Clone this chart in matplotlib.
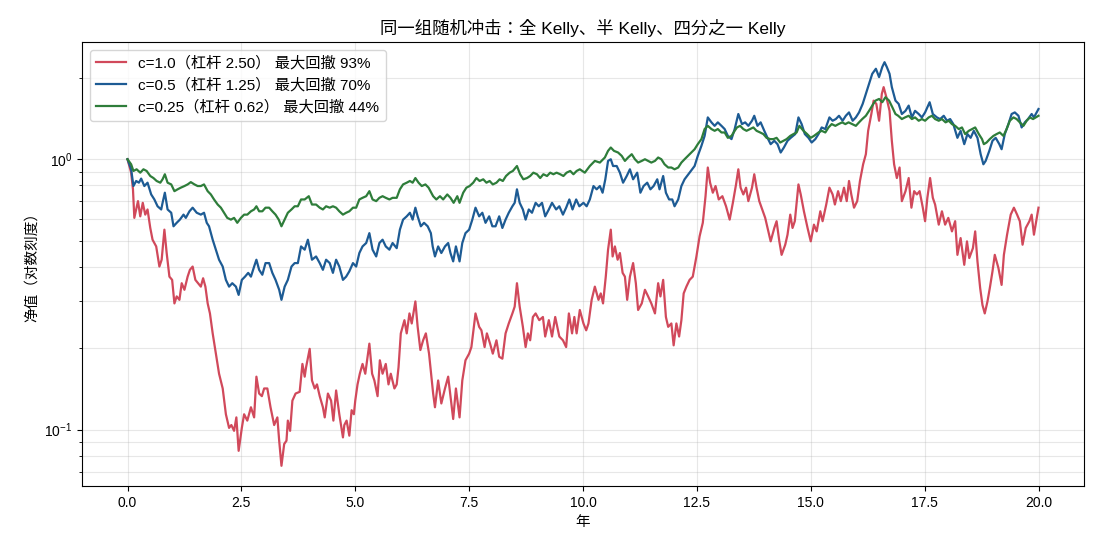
import matplotlib
matplotlib.use("Agg")
import matplotlib.pyplot as plt

plt.rcParams['font.family'] = ['Liberation Sans', 'Noto Sans CJK JP', 'DejaVu Sans']
plt.rcParams['axes.unicode_minus'] = False

# values (years, net value)
red_t = [0, 0.08, 0.12, 0.15, 0.23, 0.28, 0.335, 0.39, 0.44, 0.50,
         0.55, 0.63, 0.70, 0.75, 0.81, 0.86, 0.92, 0.98, 1.03, 1.08,
         1.14, 1.19, 1.25, 1.32, 1.37, 1.43, 1.49, 1.55, 1.61, 1.66,
         1.71, 1.76, 1.81, 1.87, 1.94, 2.01, 2.09, 2.16, 2.23, 2.28,
         2.34, 2.39, 2.44, 2.51, 2.56, 2.63, 2.71, 2.78, 2.83, 2.89,
         2.95, 3.00, 3.07, 3.14, 3.22, 3.29,
         3.33, 3.38, 3.44, 3.49, 3.52, 3.57, 3.62, 3.69, 3.78, 3.84,
         3.89, 3.92, 4.00, 4.05, 4.11, 4.16, 4.22, 4.29, 4.33, 4.40,
         4.47, 4.52, 4.58, 4.65, 4.73, 4.76, 4.81, 4.87, 4.92, 4.97,
         5.00, 5.05, 5.10, 5.16, 5.22, 5.31, 5.37, 5.42, 5.49, 5.54,
         5.60, 5.67, 5.73, 5.78, 5.86, 5.91, 5.95, 6.00, 6.08, 6.13,
         6.19, 6.24, 6.32, 6.37, 6.43, 6.49, 6.55, 6.62,
         6.71, 6.75, 6.82, 6.89, 6.97, 7.04, 7.09, 7.15, 7.21, 7.29,
         7.35, 7.42, 7.50, 7.55, 7.64, 7.72, 7.77, 7.84, 7.89, 7.96,
         8.02, 8.10, 8.16, 8.23, 8.30, 8.37, 8.45, 8.50, 8.55, 8.61,
         8.68, 8.74, 8.79, 8.84, 8.90, 8.96, 9.04, 9.12, 9.17, 9.25,
         9.32, 9.39, 9.48, 9.56, 9.63, 9.69, 9.76, 9.81, 9.86, 9.93,
         10.01, 10.07, 10.12, 10.19, 10.26, 10.34, 10.39, 10.44, 10.50, 10.55,
         10.61, 10.65, 10.70, 10.76, 10.81, 10.87, 10.92, 10.97, 11.03, 11.10,
         11.16, 11.21, 11.29, 11.36, 11.43, 11.50, 11.58, 11.65, 11.70, 11.76,
         11.82, 11.87, 11.94, 11.99, 12.05, 12.11, 12.16, 12.21, 12.27, 12.34,
         12.41, 12.49, 12.56, 12.63, 12.69, 12.74, 12.79, 12.85, 12.91, 12.98,
         13.06, 13.14, 13.22, 13.29,
         13.36, 13.41, 13.46, 13.52, 13.58, 13.63, 13.71, 13.76, 13.81, 13.87,
         13.95, 14.00, 14.07, 14.12, 14.20, 14.25, 14.31, 14.36, 14.44, 14.49,
         14.55, 14.60, 14.65, 14.73, 14.78, 14.85, 14.93, 15.00, 15.07, 15.13,
         15.21, 15.26, 15.34, 15.41, 15.48, 15.53, 15.60, 15.66, 15.73, 15.79,
         15.84, 15.89, 15.95, 16.02, 16.08, 16.15, 16.21, 16.26, 16.33, 16.38,
         16.44, 16.50, 16.56, 16.60, 16.66,
         16.73, 16.78, 16.83, 16.89, 16.95, 17.00, 17.08, 17.15, 17.21, 17.27,
         17.33, 17.39, 17.46, 17.51, 17.56, 17.62, 17.68, 17.73, 17.81, 17.88,
         17.95, 18.02, 18.10, 18.17, 18.22, 18.29, 18.37, 18.43, 18.48, 18.56,
         18.61, 18.66, 18.72, 18.77, 18.82, 18.88, 18.93, 18.99, 19.04, 19.12,
         19.19, 19.24, 19.31, 19.39, 19.46, 19.53, 19.59, 19.65, 19.72, 19.80,
         19.85, 19.90, 20.0]
red_v = [1.0, 0.892, 0.774, 0.607, 0.70, 0.615, 0.69, 0.624, 0.652, 0.557,
         0.504, 0.476, 0.401, 0.425, 0.549, 0.450, 0.368, 0.358, 0.293, 0.311,
         0.302, 0.348, 0.329, 0.368, 0.390, 0.401, 0.358, 0.348, 0.338, 0.363,
         0.338, 0.293, 0.269, 0.227, 0.191, 0.161, 0.142, 0.114, 0.1015, 0.104,
         0.099, 0.111, 0.0835, 0.1015, 0.114, 0.108, 0.121, 0.111, 0.157, 0.136,
         0.133, 0.142, 0.142, 0.121, 0.104, 0.111,
         0.091, 0.0735, 0.0885, 0.091, 0.108, 0.099, 0.128, 0.136, 0.138, 0.175,
         0.157, 0.170, 0.199, 0.152, 0.142, 0.147, 0.133, 0.121, 0.111, 0.136,
         0.128, 0.108, 0.1396, 0.114, 0.0936, 0.104, 0.108, 0.095, 0.118, 0.114,
         0.128, 0.147, 0.161, 0.175, 0.161, 0.208, 0.161, 0.152, 0.133, 0.1805,
         0.161, 0.175, 0.147, 0.161, 0.142, 0.147, 0.170, 0.227, 0.254, 0.227,
         0.269, 0.247, 0.298, 0.240, 0.197, 0.214, 0.227, 0.191,
         0.136, 0.121, 0.152, 0.125, 0.142, 0.157, 0.133, 0.1095, 0.142, 0.111,
         0.152, 0.1805, 0.191, 0.202, 0.269, 0.240, 0.233, 0.202, 0.227, 0.208,
         0.191, 0.214, 0.186, 0.183, 0.227, 0.247, 0.269, 0.285, 0.348, 0.285,
         0.240, 0.202, 0.227, 0.214, 0.261, 0.269, 0.254, 0.261, 0.221, 0.254,
         0.221, 0.261, 0.221, 0.214, 0.202, 0.269, 0.227, 0.261, 0.227, 0.277,
         0.247, 0.233, 0.247, 0.302, 0.338, 0.302, 0.319, 0.293, 0.368, 0.463,
         0.549, 0.437, 0.476, 0.425, 0.450, 0.380, 0.368, 0.302, 0.368, 0.413,
         0.348, 0.277, 0.293, 0.329, 0.311, 0.293, 0.269, 0.348, 0.311, 0.358,
         0.261, 0.240, 0.247, 0.205, 0.247, 0.221, 0.254, 0.319, 0.338, 0.358,
         0.368, 0.437, 0.519, 0.582, 0.730, 0.932, 0.819, 0.752, 0.796, 0.710,
         0.730, 0.670, 0.598, 0.690,
         0.807, 0.918, 0.785, 0.741, 0.785, 0.700, 0.785, 0.880, 0.785, 0.700,
         0.642, 0.607, 0.541, 0.497, 0.557, 0.590, 0.497, 0.443, 0.483, 0.526,
         0.624, 0.557, 0.590, 0.807, 0.741, 0.642, 0.557, 0.497, 0.573, 0.541,
         0.642, 0.590, 0.680, 0.785, 0.741, 0.680, 0.762, 0.700, 0.785, 0.700,
         0.831, 0.741, 0.662, 0.700, 0.831, 0.958, 1.044, 1.274, 1.470, 1.647,
         1.602, 1.388, 1.744, 1.848, 1.696,
         1.51, 1.17, 0.958, 0.852, 0.932, 0.700, 0.762, 0.852, 0.662, 0.762,
         0.741, 0.762, 0.662, 0.590, 0.720, 0.852, 0.720, 0.680, 0.573, 0.642,
         0.573, 0.607, 0.541, 0.590, 0.443, 0.511, 0.407, 0.497, 0.431, 0.469,
         0.541, 0.419, 0.333, 0.289, 0.269, 0.298, 0.333, 0.385, 0.443, 0.396,
         0.343, 0.443, 0.526, 0.624, 0.662, 0.624, 0.590, 0.483, 0.557, 0.590,
         0.624, 0.526, 0.662]

blue_t = [0, 0.08, 0.13, 0.19, 0.25, 0.30, 0.37, 0.44, 0.52, 0.59,
          0.66, 0.74, 0.77, 0.82, 0.88, 0.96, 1.01, 1.08, 1.15, 1.23,
          1.28, 1.36, 1.43, 1.52, 1.61, 1.68, 1.74, 1.79, 1.87, 1.94,
          2.01, 2.09, 2.16, 2.23, 2.30, 2.38, 2.44, 2.51, 2.58, 2.65,
          2.71, 2.78, 2.83, 2.89, 2.96, 3.03, 3.11, 3.18, 3.25,
          3.33, 3.38, 3.45, 3.52, 3.60, 3.67, 3.74, 3.81, 3.89, 3.96,
          4.05, 4.14, 4.22, 4.29, 4.36, 4.44, 4.51, 4.58, 4.65, 4.73,
          4.80, 4.87, 4.95, 5.02, 5.09, 5.16, 5.24, 5.31, 5.38, 5.46,
          5.53, 5.60, 5.67, 5.75, 5.82, 5.91, 5.98, 6.05, 6.13, 6.20,
          6.26, 6.32, 6.37, 6.44, 6.51, 6.59, 6.66,
          6.70, 6.75, 6.82, 6.89, 6.97, 7.04, 7.09, 7.15, 7.21, 7.29,
          7.35, 7.42, 7.50, 7.57, 7.64, 7.72, 7.79, 7.86, 7.94, 8.01,
          8.08, 8.16, 8.23, 8.30, 8.37, 8.45, 8.50, 8.55, 8.61, 8.68,
          8.74, 8.81, 8.88, 8.96, 9.03, 9.10, 9.17, 9.25, 9.32, 9.41,
          9.48, 9.56, 9.63, 9.70, 9.77, 9.85, 9.92,
          10.01, 10.08, 10.15, 10.23, 10.30, 10.37, 10.43, 10.49, 10.55, 10.61,
          10.66, 10.74, 10.81, 10.88, 10.96, 11.03, 11.10, 11.19, 11.26, 11.33,
          11.41, 11.48, 11.55, 11.63, 11.68, 11.76, 11.82, 11.89, 11.96, 12.01,
          12.09, 12.16, 12.23, 12.34, 12.45, 12.52, 12.60, 12.67, 12.74, 12.82,
          12.89, 12.96, 13.04, 13.11, 13.18, 13.26, 13.33,
          13.41, 13.49, 13.56, 13.63, 13.71, 13.76, 13.83, 13.90, 13.98, 14.05,
          14.12, 14.20, 14.27, 14.34, 14.41, 14.49, 14.56, 14.66, 14.73, 14.80,
          14.87, 14.95, 15.02, 15.10, 15.17, 15.24, 15.32, 15.41, 15.48, 15.55,
          15.62, 15.70, 15.77, 15.84, 15.92, 15.99, 16.06, 16.14, 16.21, 16.28,
          16.35, 16.43, 16.50, 16.57, 16.62,
          16.67, 16.73, 16.78, 16.86, 16.93, 17.00, 17.08, 17.15, 17.22, 17.29,
          17.37, 17.44, 17.51, 17.61, 17.68, 17.77, 17.84, 17.92, 17.99, 18.06,
          18.13, 18.22, 18.29, 18.37, 18.44, 18.51, 18.58, 18.66, 18.73, 18.79,
          18.84, 18.92, 18.99, 19.06, 19.14, 19.19, 19.26, 19.34, 19.41, 19.48,
          19.56, 19.63, 19.70, 19.77, 19.85, 19.90, 20.0]
blue_v = [1.0, 0.918, 0.796, 0.831, 0.819, 0.848, 0.796, 0.819, 0.741, 0.710,
          0.670, 0.652, 0.690, 0.752, 0.652, 0.634, 0.565, 0.582, 0.598, 0.624,
          0.607, 0.642, 0.662, 0.634, 0.624, 0.634, 0.582, 0.565, 0.504, 0.463,
          0.425, 0.401, 0.358, 0.338, 0.348, 0.338, 0.315, 0.358, 0.368, 0.380,
          0.368, 0.401, 0.425, 0.390, 0.374, 0.413, 0.413, 0.380, 0.358,
          0.329, 0.302, 0.338, 0.358, 0.401, 0.413, 0.413, 0.476, 0.463, 0.504,
          0.425, 0.437, 0.413, 0.390, 0.425, 0.413, 0.380, 0.425, 0.401, 0.358,
          0.368, 0.385, 0.413, 0.401, 0.450, 0.476, 0.490, 0.533, 0.463, 0.437,
          0.490, 0.504, 0.476, 0.463, 0.490, 0.469, 0.549, 0.598, 0.615, 0.634,
          0.598, 0.662, 0.615, 0.565, 0.582, 0.565, 0.533,
          0.476, 0.437, 0.476, 0.450, 0.476, 0.490, 0.450, 0.419, 0.476, 0.419,
          0.490, 0.533, 0.549, 0.598, 0.662, 0.615, 0.634, 0.582, 0.615, 0.565,
          0.565, 0.615, 0.557, 0.598, 0.634, 0.670, 0.690, 0.774, 0.690, 0.652,
          0.598, 0.652, 0.634, 0.690, 0.670, 0.690, 0.615, 0.652, 0.690, 0.652,
          0.670, 0.624, 0.662, 0.710, 0.652, 0.710, 0.670,
          0.690, 0.670, 0.710, 0.796, 0.774, 0.796, 0.752, 0.843, 0.986, 1.0,
          0.944, 0.944, 0.892, 0.819, 0.867, 0.918, 0.843, 0.892, 0.752, 0.796,
          0.819, 0.774, 0.796, 0.843, 0.774, 0.867, 0.752, 0.710, 0.710, 0.670,
          0.710, 0.796, 0.843, 0.892, 0.944, 1.029, 1.121, 1.22, 1.428, 1.369,
          1.329, 1.369, 1.329, 1.293, 1.22, 1.187, 1.293,
          1.47, 1.349, 1.369, 1.329, 1.388, 1.448, 1.329, 1.369, 1.274, 1.20,
          1.137, 1.17, 1.137, 1.059, 1.105, 1.17, 1.20, 1.239, 1.428, 1.349,
          1.239, 1.20, 1.153, 1.187, 1.239, 1.311, 1.293, 1.428, 1.388, 1.408,
          1.448, 1.388, 1.448, 1.49, 1.388, 1.428, 1.49, 1.602, 1.744, 1.90,
          2.07, 2.161, 2.013, 2.193, 2.285,
          2.193, 2.07, 1.848, 1.647, 1.602, 1.47, 1.51, 1.579, 1.428, 1.51,
          1.47, 1.428, 1.49, 1.625, 1.47, 1.428, 1.408, 1.448, 1.388, 1.408,
          1.349, 1.20, 1.274, 1.137, 1.239, 1.20, 1.274, 1.20, 1.044, 0.958,
          0.986, 1.074, 1.17, 1.20, 1.137, 1.089, 1.239, 1.349, 1.47, 1.49,
          1.448, 1.311, 1.369, 1.408, 1.47, 1.428, 1.534]

green_t = [0, 0.08, 0.13, 0.20, 0.28, 0.35, 0.42, 0.50, 0.57, 0.64,
           0.72, 0.77, 0.82, 0.88, 0.96, 1.03, 1.10, 1.17, 1.25, 1.32,
           1.39, 1.47, 1.54, 1.61, 1.68, 1.76, 1.83, 1.90, 1.98, 2.05,
           2.12, 2.19, 2.27, 2.34, 2.41, 2.49, 2.56, 2.63, 2.71, 2.78,
           2.83, 2.89, 2.96, 3.03, 3.11, 3.18, 3.25,
           3.32, 3.38, 3.45, 3.52, 3.60, 3.67, 3.74, 3.81, 3.89, 3.98,
           4.05, 4.14, 4.22, 4.29, 4.36, 4.44, 4.51, 4.58, 4.65, 4.73,
           4.80, 4.87, 4.95, 5.02, 5.09, 5.16, 5.24, 5.31, 5.38, 5.46,
           5.53, 5.60, 5.67, 5.75, 5.82, 5.91, 5.98, 6.05, 6.13, 6.20,
           6.26, 6.32, 6.39, 6.46, 6.54, 6.61,
           6.71, 6.78, 6.86, 6.93, 7.02, 7.09, 7.16, 7.24, 7.29, 7.37,
           7.44, 7.51, 7.59, 7.66, 7.73, 7.81, 7.88, 7.95, 8.02, 8.10,
           8.17, 8.24, 8.31, 8.39, 8.46, 8.55, 8.62, 8.69, 8.77, 8.84,
           8.91, 8.99, 9.06, 9.13, 9.21, 9.28, 9.35, 9.42, 9.50, 9.57,
           9.64, 9.72, 9.79, 9.86, 9.93,
           10.04, 10.15, 10.26, 10.37, 10.48, 10.55, 10.61, 10.68, 10.77, 10.85,
           10.92, 10.99, 11.07, 11.14, 11.21, 11.29, 11.36, 11.43, 11.50, 11.58,
           11.65, 11.72, 11.79, 11.87, 11.94, 12.01, 12.09, 12.16, 12.23, 12.34,
           12.45, 12.52, 12.60, 12.67, 12.74, 12.82, 12.89, 12.96, 13.04, 13.11,
           13.18, 13.26, 13.33,
           13.38, 13.45, 13.52, 13.59, 13.67, 13.74, 13.81, 13.89, 13.96, 14.03,
           14.11, 14.18, 14.25, 14.33, 14.40, 14.47, 14.55, 14.62, 14.69, 14.75,
           14.84, 14.92, 15.00, 15.07, 15.17, 15.24, 15.32, 15.39, 15.46, 15.54,
           15.61, 15.69, 15.76, 15.83, 15.91, 15.99, 16.06, 16.13, 16.21, 16.28,
           16.35, 16.42, 16.50, 16.57, 16.64,
           16.72, 16.79, 16.86, 16.92, 17.00, 17.07, 17.15, 17.22, 17.29, 17.37,
           17.44, 17.51, 17.59, 17.66, 17.73, 17.81, 17.88, 17.96, 18.03, 18.10,
           18.17, 18.25, 18.32, 18.39, 18.47, 18.54, 18.61, 18.69, 18.76, 18.80,
           18.86, 18.93, 19.01, 19.08, 19.15, 19.23, 19.30, 19.37, 19.45, 19.52,
           19.59, 19.67, 19.74, 19.81, 19.88, 20.0]
green_v = [1.0, 0.958, 0.905, 0.918, 0.892, 0.918, 0.905, 0.867, 0.852, 0.831,
           0.819, 0.843, 0.880, 0.819, 0.807, 0.762, 0.774, 0.785, 0.796, 0.807,
           0.823, 0.807, 0.796, 0.796, 0.807, 0.762, 0.741, 0.710, 0.680, 0.662,
           0.634, 0.607, 0.598, 0.607, 0.582, 0.607, 0.624, 0.624, 0.642, 0.652,
           0.670, 0.642, 0.642, 0.662, 0.662, 0.642, 0.624,
           0.598, 0.565, 0.598, 0.634, 0.652, 0.670, 0.670, 0.710, 0.710, 0.730,
           0.680, 0.680, 0.662, 0.652, 0.670, 0.662, 0.670, 0.662, 0.642, 0.624,
           0.634, 0.642, 0.662, 0.662, 0.710, 0.720, 0.730, 0.762, 0.710, 0.700,
           0.720, 0.730, 0.720, 0.710, 0.720, 0.720, 0.774, 0.807, 0.819, 0.831,
           0.819, 0.852, 0.819, 0.796, 0.807, 0.785,
           0.730, 0.710, 0.730, 0.710, 0.741, 0.720, 0.690, 0.730, 0.690, 0.752,
           0.785, 0.796, 0.819, 0.852, 0.831, 0.843, 0.819, 0.831, 0.807, 0.819,
           0.843, 0.831, 0.867, 0.892, 0.905, 0.944, 0.880, 0.843, 0.852, 0.867,
           0.892, 0.880, 0.852, 0.880, 0.867, 0.892, 0.880, 0.892, 0.880, 0.867,
           0.892, 0.905, 0.880, 0.905, 0.918,
           0.892, 0.944, 0.986, 0.972, 1.015, 1.074, 1.105, 1.074, 1.059, 1.029,
           0.986, 1.015, 1.044, 1.0, 0.972, 0.986, 1.0, 0.986, 0.972, 0.986,
           1.015, 1.0, 0.958, 0.932, 0.932, 0.918, 0.932, 0.972, 1.0, 1.044,
           1.089, 1.137, 1.187, 1.293, 1.329, 1.293, 1.274, 1.293, 1.256, 1.256,
           1.20, 1.22, 1.274,
           1.311, 1.329, 1.293, 1.274, 1.293, 1.311, 1.274, 1.256, 1.239, 1.20,
           1.187, 1.187, 1.20, 1.153, 1.17, 1.187, 1.22, 1.239, 1.256, 1.329,
           1.274, 1.239, 1.20, 1.22, 1.256, 1.274, 1.256, 1.311, 1.349, 1.329,
           1.349, 1.369, 1.349, 1.369, 1.349, 1.329, 1.369, 1.408, 1.448, 1.51,
           1.579, 1.647, 1.671, 1.625, 1.696,
           1.647, 1.558, 1.47, 1.448, 1.408, 1.428, 1.448, 1.408, 1.428, 1.388,
           1.408, 1.388, 1.428, 1.448, 1.408, 1.388, 1.408, 1.369, 1.388, 1.349,
           1.329, 1.293, 1.311, 1.239, 1.274, 1.293, 1.311, 1.239, 1.187, 1.137,
           1.153, 1.187, 1.22, 1.239, 1.256, 1.22, 1.293, 1.388, 1.428, 1.408,
           1.369, 1.329, 1.388, 1.428, 1.408, 1.448]

labels = ["c=1.0（杠杆 2.50） 最大回撤 93%",
          "c=0.5（杠杆 1.25） 最大回撤 70%",
          "c=0.25（杠杆 0.62） 最大回撤 44%"]
colors = ["#d1495b", "#1d5b94", "#2e7d3a"]

fig, ax = plt.subplots(figsize=(11, 5.5), dpi=100)
fig.subplots_adjust(left=0.0745, right=0.9855, top=0.9236, bottom=0.1164)

ax.plot(red_t, red_v, color=colors[0], lw=1.6, label=labels[0])
ax.plot(blue_t, blue_v, color=colors[1], lw=1.6, label=labels[1])
ax.plot(green_t, green_v, color=colors[2], lw=1.6, label=labels[2])

ax.set_yscale("log")
ax.grid(True, which="both", alpha=0.3)
ax.set_title("同一组随机冲击：全 Kelly、半 Kelly、四分之一 Kelly", fontsize=12.5)
ax.set_xlabel("年", fontsize=10.5)
ax.set_ylabel("净值（对数刻度）", fontsize=10.5)
ax.legend(loc="upper left", fontsize=11)

plt.savefig("out.png")
